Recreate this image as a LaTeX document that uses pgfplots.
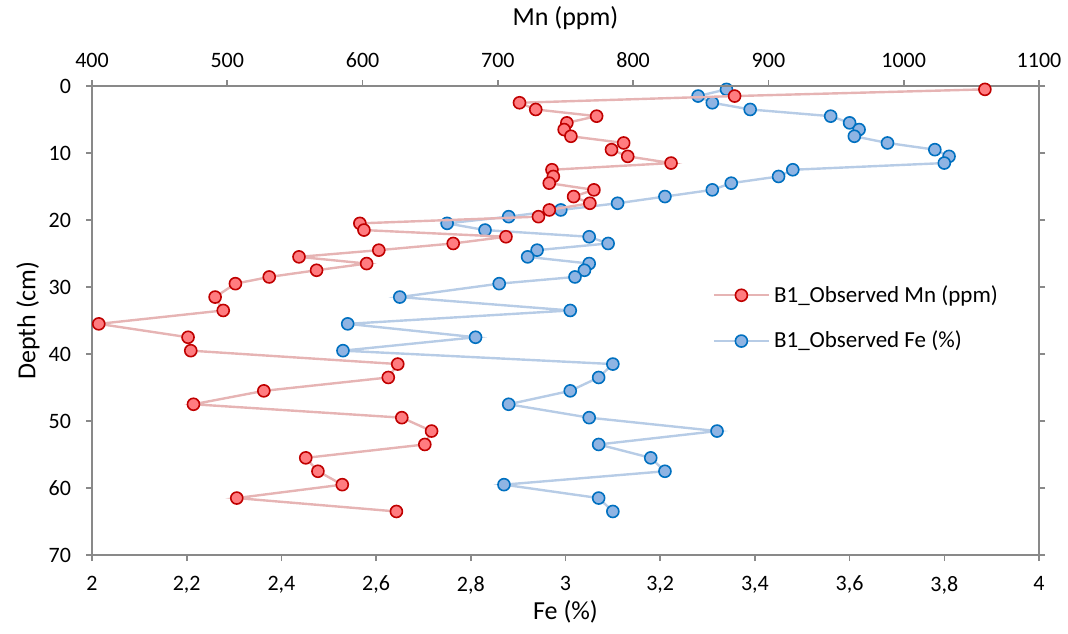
\documentclass[border=0pt]{standalone}
\usepackage{fontspec}
\setmainfont{Carlito}
\usepackage{pgfplots}
\pgfplotsset{compat=1.18}
\usepackage{pgfplotstable}
\definecolor{axgray}{HTML}{898989}
\definecolor{mnfill}{HTML}{FF7C80}
\definecolor{mnedge}{HTML}{C00000}
\definecolor{mnline}{HTML}{E6B4B4}
\definecolor{fefill}{HTML}{8FB4E3}
\definecolor{feedge}{HTML}{0070C0}
\definecolor{feline}{HTML}{B7CCE6}

\pgfplotstableread{
depth mn
0.5 1060
1.5 875
2.5 716
3.5 728
4.5 773
5.5 751
6.5 749
7.5 754
8.5 793
9.5 784
10.5 796
11.5 828
12.5 740
13.5 741
14.5 738
15.5 771
16.5 756
17.5 768
18.5 738
19.5 730
20.5 598
21.5 601
22.5 706
23.5 667
24.5 612
25.5 553
26.5 603
27.5 566
28.5 531
29.5 506
31.5 491
33.5 497
35.5 405
37.5 471
39.5 473
41.5 626
43.5 619
45.5 527
47.5 475
49.5 629
51.5 651
53.5 646
55.5 558
57.5 567
59.5 585
61.5 507
63.5 625
}\mntable

\pgfplotstableread{
depth fe
0.5 3.34
1.5 3.28
2.5 3.31
3.5 3.39
4.5 3.56
5.5 3.60
6.5 3.62
7.5 3.61
8.5 3.68
9.5 3.78
10.5 3.81
11.5 3.80
12.5 3.48
13.5 3.45
14.5 3.35
15.5 3.31
16.5 3.21
17.5 3.11
18.5 2.99
19.5 2.88
20.5 2.75
21.5 2.83
22.5 3.05
23.5 3.09
24.5 2.94
25.5 2.92
26.5 3.05
27.5 3.04
28.5 3.02
29.5 2.86
31.5 2.65
33.5 3.01
35.5 2.54
37.5 2.81
39.5 2.53
41.5 3.10
43.5 3.07
45.5 3.01
47.5 2.88
49.5 3.05
51.5 3.32
53.5 3.07
55.5 3.18
57.5 3.21
59.5 2.87
61.5 3.07
63.5 3.10
}\fetable

\pgfplotsset{
  common/.style={
    scale only axis,
    width=473.5pt, height=234.5pt,
    at={(46pt,39pt)},
    y dir=reverse,
    ymin=0, ymax=70,
    axis line style={axgray, line width=0.8pt},
    tick style={axgray, line width=0.8pt},
    major tick length=3pt,
    tick align=outside,
    tick label style={font=\fontsize{11}{13}\selectfont, black},
    label style={font=\fontsize{13}{15}\selectfont},
    /pgf/number format/assume math mode=true,
    /pgf/number format/1000 sep={},
  },
}

\begin{document}
\begin{tikzpicture}
\useasboundingbox (0,0) rectangle (534pt,316.5pt);
% Fe axis (bottom) with depth axis
\begin{axis}[
  common,
  xmin=2, xmax=4,
  xtick={2,2.2,2.4,2.6,2.8,3,3.2,3.4,3.6,3.8,4},
  xtick pos=bottom,
  ytick={0,10,...,70},
  ytick pos=both,
  yticklabel pos=left,
  xticklabel style={yshift=-4pt, /pgf/number format/use comma, /pgf/number format/fixed, /pgf/number format/precision=1},
  yticklabel style={xshift=-4pt},
  xlabel={Fe (\%)},
  ylabel={Depth (cm)},
  xlabel style={at={(axis description cs:0.5,0)}, anchor=center, yshift=-28.5pt},
  ylabel style={at={(axis description cs:-0.0676,0.5)}, anchor=center},
]
\addplot[feline, line width=1.2pt, mark=*, mark size=3pt,
  mark options={fill=fefill, draw=feedge, line width=0.8pt, solid}]
  table[x=fe, y=depth] {\fetable};
\end{axis}
% Mn axis (top)
\begin{axis}[
  common,
  xmin=400, xmax=1100,
  xtick={400,500,...,1100},
  axis x line*=top,
  axis y line=none,
  xticklabel style={yshift=2.5pt},
  xlabel={Mn (ppm)},
  xlabel style={at={(axis description cs:0.5,1)}, anchor=center, yshift=34pt},
  legend style={at={(axis description cs:0.655,0.505)}, anchor=west,
    draw=none, fill=none, font=\fontsize{11.5}{14}\selectfont,
    row sep=9pt, inner sep=0pt},
  legend cell align=left,
  legend image code/.code={
    \draw[mark repeat=2, mark phase=2] plot coordinates {(0pt,0pt) (13.75pt,0pt) (27.5pt,0pt)};
  },
]
\addplot[mnline, line width=1.2pt, mark=*, mark size=3pt,
  mark options={fill=mnfill, draw=mnedge, line width=0.8pt, solid}]
  table[x=mn, y=depth] {\mntable};
\addlegendentry{B1\_Observed Mn (ppm)}
\addlegendimage{feline, line width=1.2pt, mark=*, mark size=3pt,
  mark options={fill=fefill, draw=feedge, line width=0.8pt, solid}}
\addlegendentry{B1\_Observed Fe (\%)}
\end{axis}
\end{tikzpicture}
\end{document}
